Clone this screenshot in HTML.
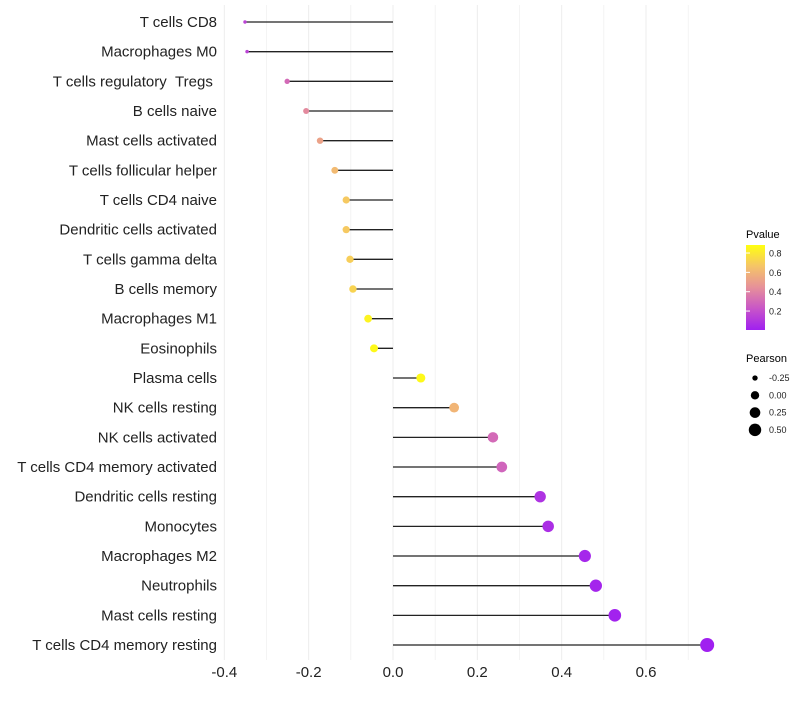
<!DOCTYPE html>
<html><head><meta charset="utf-8"><style>
body{margin:0;background:#fff;font-family:"Liberation Sans",sans-serif;}
</style></head><body>
<svg id="chart" width="800" height="700" xmlns="http://www.w3.org/2000/svg">
<defs><linearGradient id="pg" x1="0" y1="1" x2="0" y2="0">
<stop offset="0" stop-color="#A020F0"/><stop offset="0.25" stop-color="#C855C8"/><stop offset="0.5" stop-color="#E6909A"/><stop offset="0.75" stop-color="#F5C468"/><stop offset="1" stop-color="#FFFF10"/></linearGradient></defs>
<g id="grid"></g><g id="marks"></g><g id="labels"></g><g id="xaxis"></g>
<g>
<text x="746" y="238" font-size="11">Pvalue</text>
<rect x="746" y="245" width="19" height="85" fill="url(#pg)"/>
<g id="cbticks"></g>
</g>
<g>
<text x="746" y="362" font-size="11">Pearson</text>
<g id="sizeleg"></g>
</g>
</svg>
<script>
const categories=["T cells CD8","Macrophages M0","T cells regulatory\u00a0\u00a0Tregs\u00a0","B cells naive","Mast cells activated","T cells follicular helper","T cells CD4 naive","Dendritic cells activated","T cells gamma delta","B cells memory","Macrophages M1","Eosinophils","Plasma cells","NK cells resting","NK cells activated","T cells CD4 memory activated","Dendritic cells resting","Monocytes","Macrophages M2","Neutrophils","Mast cells resting","T cells CD4 memory resting"];
const pearson=[-0.351,-0.346,-0.251,-0.206,-0.173,-0.138,-0.111,-0.111,-0.102,-0.095,-0.059,-0.045,0.066,0.145,0.237,0.258,0.349,0.368,0.455,0.481,0.526,0.745];
const pvalues=[0.15,0.15,0.3,0.42,0.52,0.62,0.68,0.68,0.7,0.72,0.84,0.86,0.86,0.6,0.3,0.28,0.08,0.06,0.03,0.02,0.01,0.0];
const xTicks=[-0.4,-0.2,0.0,0.2,0.4,0.6];
const cbTicks=[0.2,0.4,0.6,0.8];
const sizeLegend=[-0.25,0.00,0.25,0.50];
const NS="http://www.w3.org/2000/svg";
const X=v=>393+v*421.7;
const Y=i=>22+i*29.667;
const R=v=>Math.sqrt(Math.max(2.5,17.7+42.1*v));
const CBY=p=>330-(p-0.004)/(0.883-0.004)*85;
function col(p){const t=Math.min(1,Math.max(0,p/0.883));
const st=[[0,[160,32,240]],[0.25,[200,85,200]],[0.5,[230,144,154]],[0.75,[245,196,104]],[1,[255,255,16]]];
for(let k=0;k<st.length-1;k++){const a=st[k],b=st[k+1];if(t<=b[0]){const f=(t-a[0])/(b[0]-a[0]);return 'rgb('+a[1].map((c,j)=>Math.round(c+(b[1][j]-c)*f)).join(',')+')';}}return 'rgb(255,255,16)';}
function mk(tag,attrs,parent){const e=document.createElementNS(NS,tag);for(const k in attrs)e.setAttribute(k,attrs[k]);document.getElementById(parent).appendChild(e);return e;}
for(let v=-0.4;v<=0.71;v+=0.1){const g=mk('line',{x1:X(v),x2:X(v),y1:5,y2:660,stroke:'#ececec','stroke-width':Math.abs(Math.round(v*10))%2==0?1:0.6},'grid');

}
categories.forEach((c,i)=>{
const t=mk('text',{x:217,y:Y(i)+5,'text-anchor':'end','font-size':'15',fill:'#222'},'labels');t.textContent=c;


const l=mk('line',{x1:X(0),x2:X(pearson[i]),y1:Y(i),y2:Y(i),stroke:'#222','stroke-width':1.3},'marks');


const d=mk('circle',{cx:X(pearson[i]),cy:Y(i),r:R(pearson[i]),fill:col(pvalues[i])},'marks');


});
xTicks.forEach(v=>{const t=mk('text',{x:X(v),y:677,'text-anchor':'middle','font-size':'15',fill:'#222'},'xaxis');t.textContent=v.toFixed(1);

});
cbTicks.forEach(p=>{const t=mk('text',{x:769,y:CBY(p)+3.5,'font-size':'9',fill:'#222'},'cbticks');t.textContent=p.toFixed(1);


const l=mk('line',{x1:746,x2:750,y1:CBY(p),y2:CBY(p),stroke:'#fff'},'cbticks');

});
sizeLegend.forEach((v,i)=>{const y=378+i*17.3;
const c=mk('circle',{cx:755,cy:y,r:R(v),fill:'#000'},'sizeleg');


const t=mk('text',{x:769,y:y+3,'font-size':'9',fill:'#222'},'sizeleg');t.textContent=v.toFixed(2);

});
</script>
</body></html>
